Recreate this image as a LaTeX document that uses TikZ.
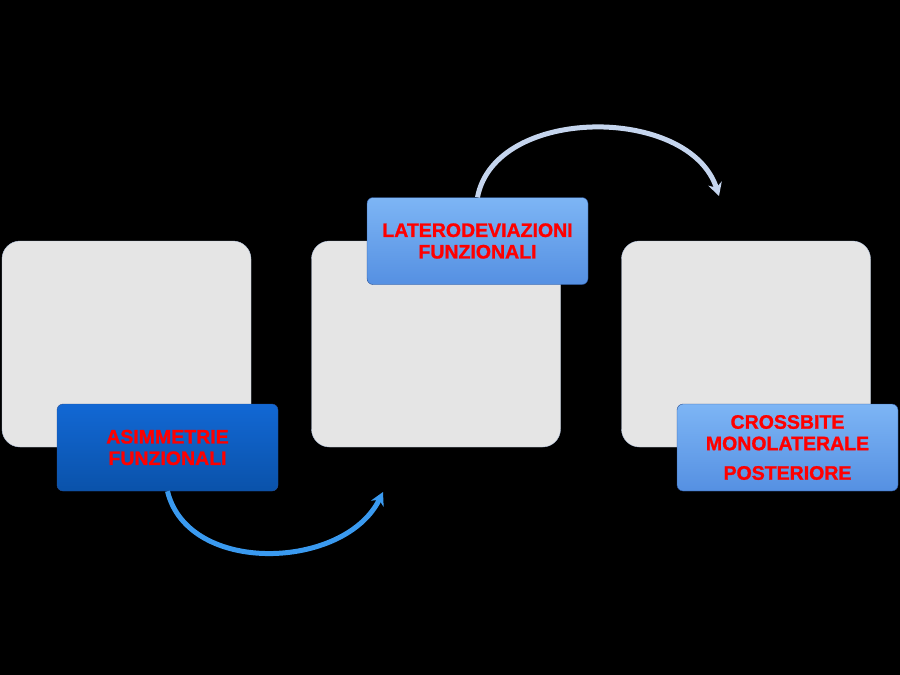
\documentclass[tikz,border=0pt]{standalone}
\usepackage{fontspec}
\setmainfont{Liberation Sans}
\newfontfamily\labelfont{Liberation Sans Bold}[FakeBold=1.2]
\definecolor{panelgrey}{RGB}{229,229,229}
\definecolor{paneledge}{RGB}{185,200,225}
\definecolor{darkblue}{RGB}{18,104,212}
\definecolor{darkbluelow}{RGB}{10,82,170}
\definecolor{lightblue}{RGB}{125,181,245}
\definecolor{lightbluelow}{RGB}{85,144,226}
\definecolor{boxedge}{RGB}{40,80,150}
\definecolor{arrowblue}{RGB}{58,154,240}
\definecolor{arrowpale}{RGB}{197,213,238}
\usetikzlibrary{arrows.meta,positioning}

\begin{document}
\begin{tikzpicture}[x=1pt, y=-1pt,
  gbox/.style={rectangle, rounded corners=18pt, draw=paneledge, thin,
               fill=panelgrey, minimum width=249pt, minimum height=206pt,
               inner sep=0pt},
  lbox/.style={rectangle, rounded corners=6pt, draw=boxedge, thin,
               minimum width=221pt, minimum height=87pt, align=center,
               font=\labelfont\fontsize{19.5}{21.5}\selectfont, text=red},
  arr/.style={-{Stealth[length=13pt, width=14pt]}, line width=5pt}
]
\useasboundingbox[fill=black] (0,0) rectangle (900,675);

% Grey panels
\node[gbox] (panA) at (126.5,344) {};
\node[gbox] (panB) at (436,344)   {};
\node[gbox] (panC) at (746,344)   {};

% Label boxes
\node[lbox, top color=darkblue,  bottom color=darkbluelow]  (asim) at (167.5,447.5)
  {ASIMMETRIE\\FUNZIONALI};

\node[lbox, top color=lightblue, bottom color=lightbluelow] (late) at (477.5,241)
  {LATERODEVIAZIONI\\FUNZIONALI};

\node[lbox, top color=lightblue, bottom color=lightbluelow] (cros) at (787.5,447.5)
  {CROSSBITE\\MONOLATERALE\\[8pt]POSTERIORE};

% Arrow ends
\coordinate (endA) at (383,492);
\coordinate (endB) at (719,196);

% Arrows
\draw[arr, draw=arrowblue] (asim.south) .. controls (188,576) and (345,570) .. (endA);
\draw[arr, draw=arrowpale] (late.north) .. controls (495,105) and (690,105) .. (endB);
\end{tikzpicture}
\end{document}
